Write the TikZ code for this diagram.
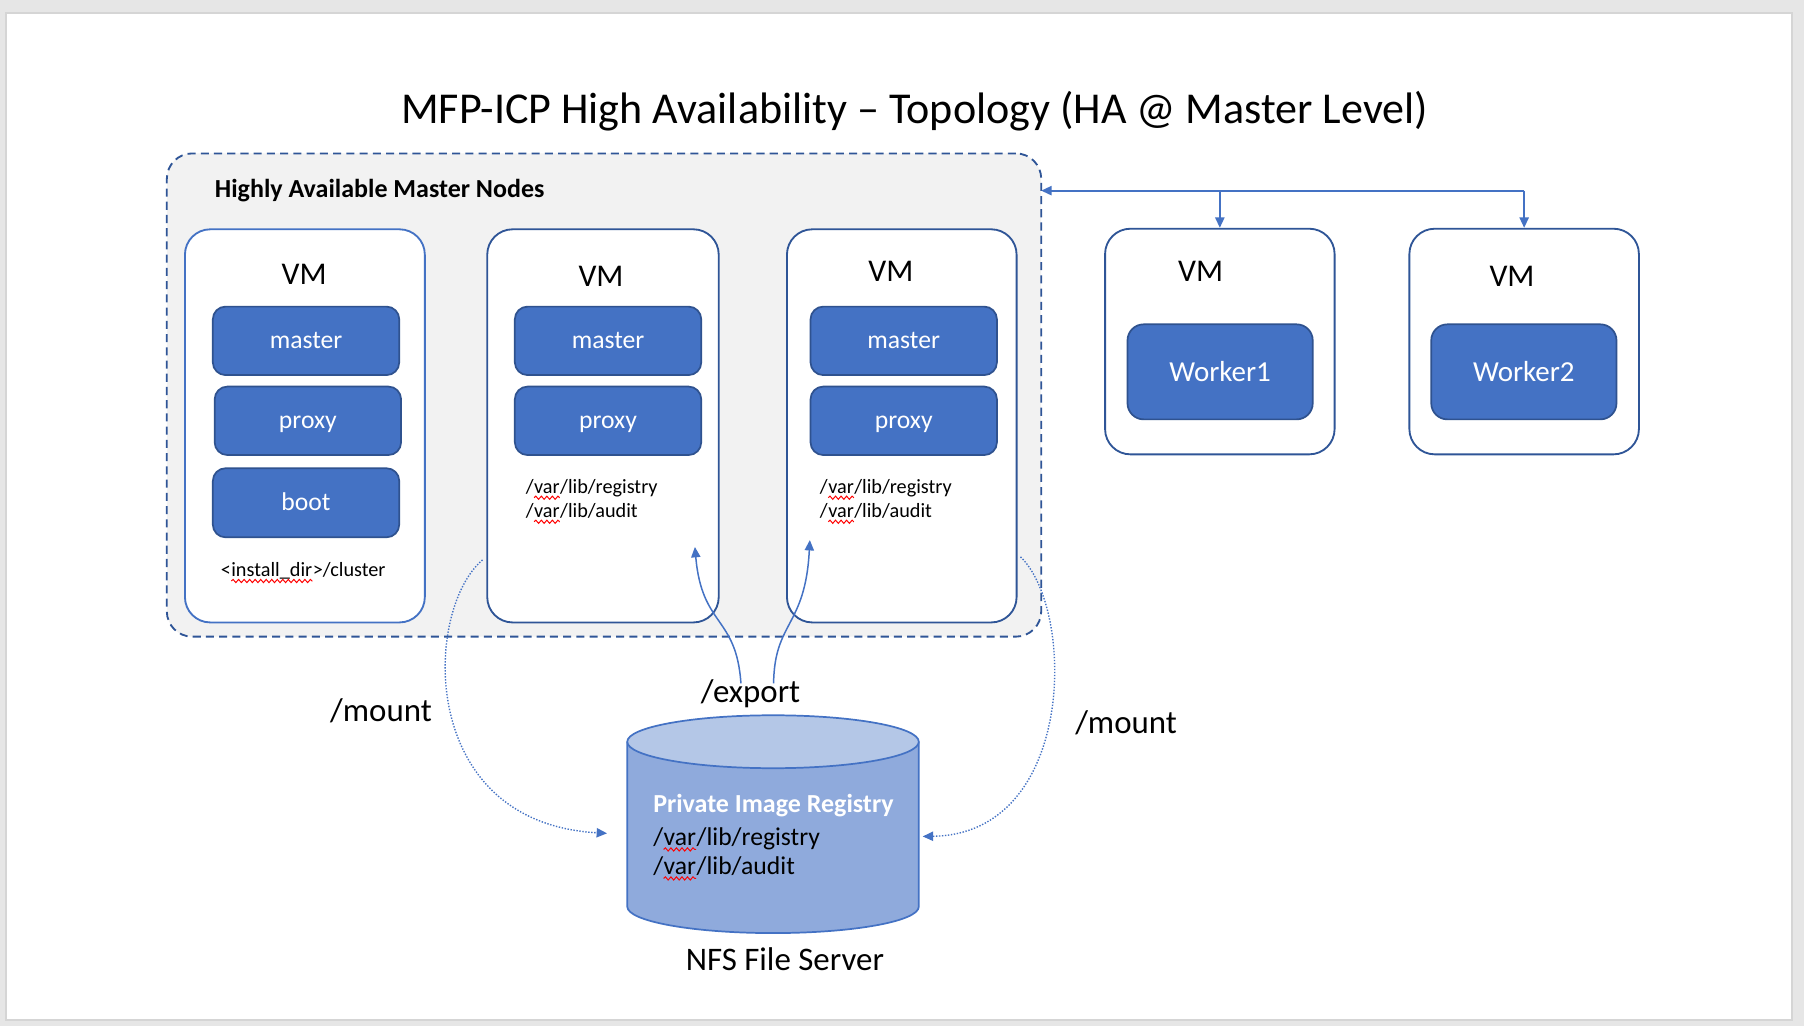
\documentclass[tikz,border=0pt]{standalone}
\usepackage{fontspec}
\setmainfont{Carlito}
\usetikzlibrary{arrows.meta,calc,decorations.pathmorphing}
\newcommand\spellmark[1]{\tikz[baseline=(spw.base)]{\node[inner sep=0pt, outer sep=0pt, anchor=base] (spw) {#1};\draw[red, line width=0.85pt, decorate, decoration={snake, amplitude=1.4pt, segment length=4.8pt}] ([yshift=-3.8pt]spw.base west) -- ([yshift=-3.8pt]spw.base east);}}
\definecolor{framegray}{HTML}{E6E6E6}
\definecolor{frameedge}{HTML}{D5D5D5}
\definecolor{contfill}{HTML}{F2F2F2}
\definecolor{darkblue}{HTML}{2F5597}
\definecolor{midblue}{HTML}{4472C4}
\definecolor{boxedge}{HTML}{2F528F}
\definecolor{cylbody}{HTML}{8FAADC}
\definecolor{cyltop}{HTML}{B4C7E7}
\begin{document}
\begin{tikzpicture}[x=1pt,y=-1pt,
  container/.style={draw=darkblue, fill=contfill, line width=1.6pt, dash pattern=on 7pt off 4.5pt, rounded corners=22pt, inner sep=0pt},
  vmbox/.style={draw=darkblue, fill=white, line width=1.6pt, rounded corners=22pt, inner sep=0pt},
  svcbox/.style={draw=boxedge, fill=midblue, line width=1.5pt, rounded corners=11pt, inner sep=0pt, text=white, font=\fontsize{22.3}{26}\selectfont, text height=15pt, text depth=2.4pt, minimum width=162pt, minimum height=59.5pt},
  workerbox/.style={svcbox, font=\fontsize{25.2}{30}\selectfont, text height=19pt, text depth=2pt, minimum width=161pt, minimum height=82.6pt, rounded corners=14pt},
  vmlbl/.style={inner sep=0pt, anchor=base, font=\fontsize{27.5}{33}\selectfont},
  txt/.style={inner sep=0pt, anchor=base west},
  smalltxt/.style={txt, font=\fontsize{17.6}{21}\selectfont},
  midtxt/.style={txt, font=\fontsize{22.3}{27}\selectfont},
  bigtxt/.style={txt, font=\fontsize{28.6}{34}\selectfont},
  conn/.style={draw=midblue, line width=1.5pt},
  dotconn/.style={draw=midblue, line width=1.2pt, dash pattern=on 1.2pt off 1.4pt},
  tip/.tip={Triangle[length=9pt,width=8pt]}
]
\useasboundingbox (0,0) rectangle (1568,892);
\fill[framegray] (0,0) rectangle (1568,892);
\draw[frameedge, line width=2pt, fill=white] (5.2,11.3) rectangle (1557.6,886.6);

% title
\node[txt, font=\fontsize{38.3}{46}\selectfont] (title) at (348.5,107.2) {MFP-ICP High Availability – Topology (HA @ Master Level)};

% master container
\node[container, minimum width=760pt, minimum height=420pt] (cont) at (525,343.35) {};
\node[txt, font=\bfseries\fontsize{22.6}{27}\selectfont] (hdr) at (186.6,171.5) {Highly Available Master Nodes};

% VMs
\node[vmbox, draw=midblue, minimum width=208.5pt, minimum height=341.7pt] (vm1) at (265,370.15) {};
\node[vmbox, minimum width=201.2pt, minimum height=341.7pt] (vm2) at (524.1,370.15) {};
\node[vmbox, minimum width=199.6pt, minimum height=341.7pt] (vm3) at (783.8,370.15) {};
\node[vmbox, minimum width=199.5pt, minimum height=196.1pt] (vm4) at (1060.25,296.85) {};
\node[vmbox, minimum width=199.5pt, minimum height=196.1pt] (vm5) at (1324.75,296.85) {};

\node[vmlbl] (vm1t) at (264.3,247.7) {VM};
\node[vmlbl] (vm2t) at (522.4,249.2) {VM};
\node[vmlbl] (vm3t) at (774.3,244.8) {VM};
\node[vmlbl] (vm4t) at (1043.5,244.8) {VM};
\node[vmlbl] (vm5t) at (1314.2,249.2) {VM};

% services
\node[svcbox] (m1) at (266,296.25) {master};
\node[svcbox] (p1) at (267.6,365.75) {proxy};
\node[svcbox, minimum height=60pt] (b1) at (266,437) {boot};
\node[svcbox] (m2) at (528.5,296.25) {master};
\node[svcbox] (p2) at (528.5,365.75) {proxy};
\node[svcbox] (m3) at (785.5,296.25) {master};
\node[svcbox] (p3) at (785.5,365.75) {proxy};
\node[workerbox] (w1) at (1060.5,323.2) {Worker1};
\node[workerbox] (w2) at (1324.5,323.2) {Worker2};

% paths inside VMs
\node[smalltxt] (r2) at (456.8,428.8) {/\spellmark{var}/lib/registry};
\node[smalltxt] (a2) at (456.8,449.7) {/\spellmark{var}/lib/audit};
\node[smalltxt] (r3) at (712.5,428.8) {/\spellmark{var}/lib/registry};
\node[smalltxt] (a3) at (712.5,449.7) {/\spellmark{var}/lib/audit};
\node[smalltxt] (inst) at (191.7,501.2) {<\spellmark{install\_dir}>/cluster};

% NFS cylinder
\fill[cylbody] (545.2,644.7) -- (545.2,788) arc[start angle=180,end angle=360,x radius=126.7pt,y radius=23pt] -- (798.6,644.7) -- cycle;
\draw[midblue, line width=1.5pt] (545.2,644.7) -- (545.2,788) arc[start angle=180,end angle=360,x radius=126.7pt,y radius=23pt] -- (798.6,644.7);
\draw[midblue, fill=cyltop, line width=1.5pt] (671.9,644.7) ellipse [x radius=126.7pt, y radius=23pt];
\node[txt, text=white, font=\bfseries\fontsize{22.6}{27}\selectfont] (pir) at (567.6,706.4) {Private Image Registry};
\node[midtxt] (cr) at (567.6,734.5) {/\spellmark{var}/lib/registry};
\node[midtxt] (ca) at (567.6,759.7) {/\spellmark{var}/lib/audit};
\node[bigtxt] (nfs) at (596,843.1) {NFS File Server};

% labels
\node[bigtxt] (exportl) at (609,610.8) {/export};
\node[bigtxt] (mountl) at (286.8,626.7) {/mount};
\node[bigtxt] (mountr) at (934.4,637.4) {/mount};

% top connector
\coordinate (hubL) at (905,165.7);
\coordinate (hubR) at (1324.75,165.7);
\coordinate (hubM) at (1060.25,165.7);
\draw[conn, tip-] (hubL) -- (hubR);
\draw[conn, -tip] (hubR) -- (vm5.north);
\draw[conn, -tip] (hubM) -- (vm4.north);

% export arrows
\coordinate (exL) at (644,594);
\coordinate (exR) at (672.4,594);
\coordinate (vm2in) at (604,475.4);
\coordinate (vm3in) at (703.9,469.4);
\draw[conn, line width=1.3pt, -tip] (exL) .. controls (640,535) and (610,545) .. (vm2in);
\draw[conn, line width=1.3pt, -tip] (exR) .. controls (673,540) and (700,545) .. (vm3in);

% mount arrows
\coordinate (mL0) at (419.4,486.7);
\coordinate (mR0) at (887,484);
\coordinate (cylL) at (527.6,724.3);
\coordinate (cylR) at (802,727);
\draw[dotconn, -tip] (mL0) .. controls (368,530) and (362,715) .. (cylL);
\draw[dotconn, -tip] (mR0) .. controls (935,530) and (935,725) .. (cylR);
\end{tikzpicture}
\end{document}
